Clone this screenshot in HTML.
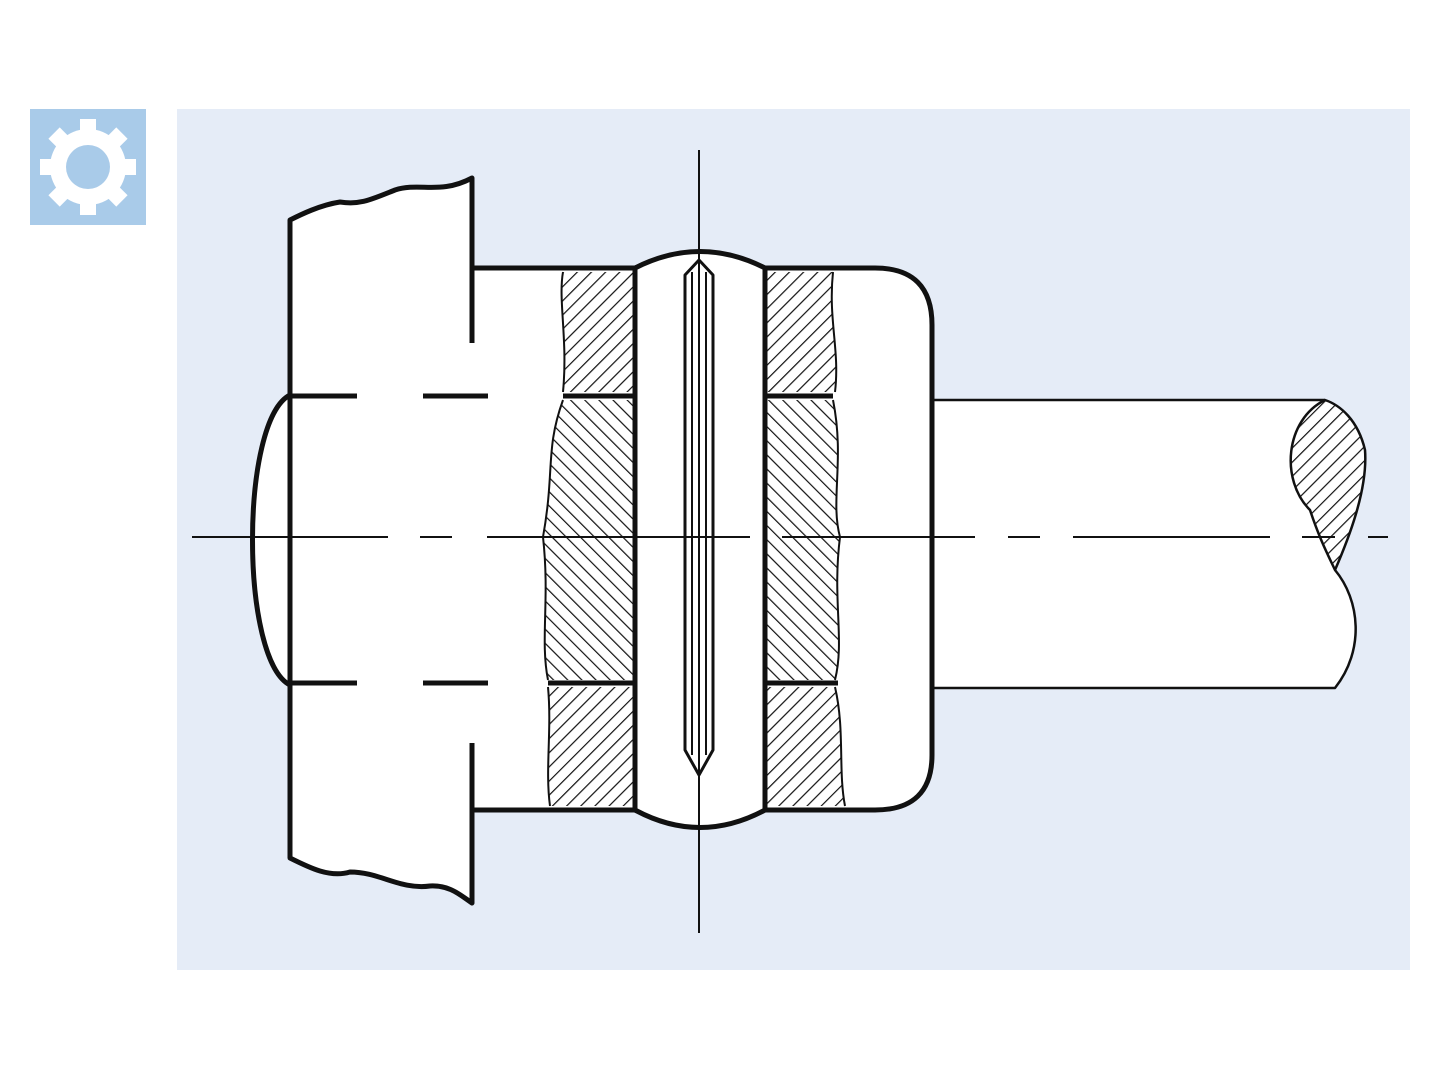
<!DOCTYPE html>
<html><head><meta charset="utf-8"><style>html,body{margin:0;padding:0;background:#fff}svg{display:block}</style></head>
<body>
<svg width="1440" height="1080" viewBox="0 0 1440 1080" xmlns="http://www.w3.org/2000/svg">
<defs>
<pattern id="h1" patternUnits="userSpaceOnUse" width="10" height="10" patternTransform="rotate(45)">
<rect width="10" height="10" fill="#fff"/><line x1="0" y1="0" x2="0" y2="10" stroke="#111" stroke-width="2.4"/></pattern>
<pattern id="h2" patternUnits="userSpaceOnUse" width="10" height="10" patternTransform="rotate(-45)">
<rect width="10" height="10" fill="#fff"/><line x1="0" y1="0" x2="0" y2="10" stroke="#111" stroke-width="2.4"/></pattern>
</defs>
<rect x="177" y="109" width="1233" height="861" fill="#e5ecf7"/>
<rect x="30" y="109" width="116" height="116" fill="#a9cbe9"/>
<g transform="translate(88,167)" fill="#fff">
<circle r="38"/>
<g id="t"><rect x="-8" y="-48" width="16" height="16"/></g>
<use href="#t" transform="rotate(45)"/><use href="#t" transform="rotate(90)"/><use href="#t" transform="rotate(135)"/>
<use href="#t" transform="rotate(180)"/><use href="#t" transform="rotate(225)"/><use href="#t" transform="rotate(270)"/><use href="#t" transform="rotate(315)"/>
<circle r="22" fill="#a9cbe9"/>
</g>
<!-- white fills -->
<g fill="#fff" stroke="none">
<path d="M472,178 C440,195 420,182 395,190 C370,200 360,205 340,202 C320,205 300,215 290,220 L290,858 C310,868 330,878 350,872 C380,872 400,890 430,886 C450,885 460,895 472,903 Z"/>
<path d="M290,395 C240,420 240,660 290,685 Z"/>
<path d="M472,268 H635 Q700,235 765,268 H875 Q932,268 932,325 V755 Q932,810 875,810 H765 Q700,845 635,810 H472 Z"/>
<path d="M932,400 H1325 L1335,570 C1360,600 1365,650 1335,688 H932 Z"/>
</g>
<g fill="none" stroke="#111" stroke-linejoin="round">
<!-- hatches -->
<path d="M563,272 C558,300 568,340 563,392 L635,392 L635,272 Z" fill="url(#h1)" stroke="none"/>
<path d="M563,400 C545,450 555,470 543,537 C550,600 540,640 548,680 L635,680 L635,400 Z" fill="url(#h2)" stroke="none"/>
<path d="M548,687 C552,730 545,770 550,806 L635,806 L635,687 Z" fill="url(#h1)" stroke="none"/>
<path d="M765,272 L833,272 C828,320 840,350 835,392 L765,392 Z" fill="url(#h1)" stroke="none"/>
<path d="M765,400 L833,400 C845,460 830,500 840,537 C832,600 845,640 835,680 L765,680 Z" fill="url(#h2)" stroke="none"/>
<path d="M765,687 L835,687 C845,730 838,770 845,806 L765,806 Z" fill="url(#h1)" stroke="none"/>
<path d="M563,272 C558,300 568,340 563,392 M563,400 C545,450 555,470 543,537 C550,600 540,640 548,680 M548,687 C552,730 545,770 550,806" stroke-width="2"/>
<path d="M833,272 C828,320 840,350 835,392 M833,400 C845,460 830,500 840,537 C832,600 845,640 835,680 M835,687 C845,730 838,770 845,806" stroke-width="2"/>
<!-- flange -->
<g stroke-width="5">
<path d="M472,343 L472,178 C440,195 420,182 395,190 C370,200 360,205 340,202 C320,205 300,215 290,220 L290,858 C310,868 330,878 350,872 C380,872 400,890 430,886 C450,885 460,895 472,903 L472,743"/>
<path d="M290,395 C240,420 240,660 290,685"/>
<path d="M290,396 H357 M423,396 H488 M290,683 H357 M423,683 H488"/>
<path d="M472,268 H635 M765,268 H875 Q932,268 932,325 V755 Q932,810 875,810 H765 M635,810 H472"/>
<path d="M635,268 V810 M765,268 V810"/>
<path d="M635,268 Q700,235 765,268 M635,810 Q700,845 765,810"/>
<path d="M563,396 H635 M548,683 H635 M765,396 H833 M765,683 H838"/>
</g>
<!-- pin -->
<path d="M685,275 L699,260 L713,275 V750 L699,775 L685,750 Z" fill="#fff" stroke-width="3"/>
<path d="M692,272 V755 M706,272 V755" stroke-width="2"/>
<!-- shaft -->
<path d="M1325,400 C1285,420 1280,480 1310,510 C1320,540 1328,555 1335,570 C1348,540 1368,490 1365,450 C1358,420 1340,405 1325,400 Z" fill="url(#h1)" stroke-width="2.5"/>
<path d="M932,400 H1325 M932,688 H1335 C1365,650 1360,600 1335,570" stroke-width="2.5"/>
<!-- center lines -->
<path d="M699,150 V933" stroke-width="2"/>
<path d="M192,537 H388 M420,537 H452 M487,537 H750 M782,537 H975 M1008,537 H1040 M1073,537 H1270 M1302,537 H1335 M1368,537 H1388" stroke-width="2"/>
</g>
</svg>
</body></html>
